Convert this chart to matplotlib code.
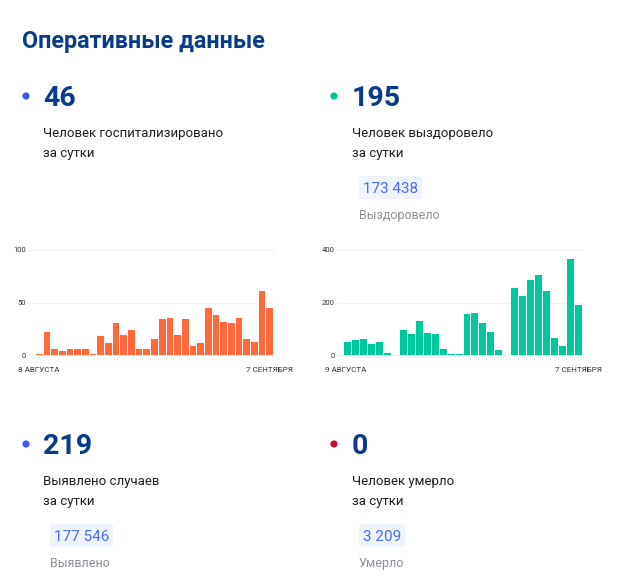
import matplotlib
matplotlib.use("Agg")
import matplotlib.pyplot as plt
from matplotlib.patches import FancyBboxPatch, Circle
import numpy as np

W, H = 623, 582

# ---- data ----
hospitalized = [2, 23, 7, 5, 7, 7, 7, 2, 19, 12, 31, 20, 25, 7, 7, 16, 35, 36,
                20, 35, 10, 12, 46, 39, 32, 31, 36, 16, 13, 62, 46]
recovered = [52, 60, 65, 45, 55, 10, 0, 99, 84, 134, 89, 84, 26, 8, 6, 159, 164,
             124, 91, 24, 0, 259, 229, 291, 307, 248, 68, 40, 368, 195]
hosp_yticks = [0, 50, 100]
rec_yticks = [0, 200, 400]
hosp_xlabels = ["8 АВГУСТА", "7 СЕНТЯБРЯ"]
rec_xlabels = ["9 АВГУСТА", "7 СЕНТЯБРЯ"]

title = "Оперативные данные"
cards = [
    dict(value="46", lines=["Человек госпитализировано", "за сутки"], dot="#3d5afe",
         total=None, total_label=None),
    dict(value="195", lines=["Человек выздоровело", "за сутки"], dot="#00c49a",
         total="173 438", total_label="Выздоровело"),
    dict(value="219", lines=["Выявлено случаев", "за сутки"], dot="#3d5afe",
         total="177 546", total_label="Выявлено"),
    dict(value="0", lines=["Человек умерло", "за сутки"], dot="#c8102e",
         total="3 209", total_label="Умерло"),
]

NAVY = "#0a3a8c"
TEXT = "#1e1e1e"
BLUE = "#4a6cf7"
BOXBG = "#eff4fe"
GRAY = "#8a8f99"
ORANGE = "#ff6a3d"
GREEN = "#00c89e"
FONT = ["Roboto", "DejaVu Sans"]

plt.rcParams["font.family"] = FONT

fig = plt.figure(figsize=(W / 100, H / 100), dpi=100)
fig.patch.set_facecolor("white")


def fx(x):
    return x / W


def fy(y):
    return 1 - y / H


def txt(x, y, s, **kw):
    return fig.text(fx(x), fy(y), s, va="baseline", ha=kw.pop("ha", "left"), **kw)


# title
txt(22, 48, title, fontsize=16.8, fontweight="bold", color=NAVY)

# cards
positions = [(26, 43, 0), (334, 352, 0), (26, 43, 348), (334, 352, 348)]
text_objs = []
for card, (dx, tx, off) in zip(cards, positions):
    fig.patches.append(Circle((dx, H - (96 + off)), 3.6, transform=None,
                              facecolor=card["dot"], edgecolor="none"))
    txt(tx, 106 + off, card["value"], fontsize=20.5, fontweight="bold", color=NAVY)
    txt(tx, 137 + off, card["lines"][0], fontsize=9.5, color=TEXT)
    txt(tx, 157 + off, card["lines"][1], fontsize=9.5, color=TEXT)
    if card["total"]:
        t = txt(tx + 11, 193 + off, card["total"], fontsize=11, color=BLUE, zorder=3)
        text_objs.append((t, off))
        txt(tx + 7, 219 + off, card["total_label"], fontsize=9, color=GRAY)


def bar_chart(left_px, right_px, bar_left_px, values, yticks, xlabels, color,
              lab_left_px, lab_right_px):
    bottom_px, top_px = 355, 250
    ax = fig.add_axes([fx(left_px), fy(bottom_px), (right_px - left_px) / W,
                       (bottom_px - top_px) / H])
    n = len(values)
    per = (right_px - bar_left_px) / n
    pad = (bar_left_px - left_px) / per
    x = np.arange(n)
    ax.bar(x, values, width=1.0, color=color, edgecolor="#ffffff", linewidth=0.7,
           zorder=2)
    ax.set_xlim(-0.5 - pad, n - 0.5)
    ax.set_ylim(0, yticks[-1])
    for yv in yticks:
        ax.axhline(yv, color="#f0f0f0", linewidth=0.8, zorder=1, clip_on=False)
    ax.set_yticks(yticks)
    ax.set_yticklabels([str(v) for v in yticks])
    ax.tick_params(axis="y", length=0, pad=1.5, labelsize=5.5, labelcolor="#333333")
    ax.set_xticks([])
    for s in ax.spines.values():
        s.set_visible(False)
    ax.patch.set_alpha(0)
    txt(lab_left_px, 372, xlabels[0], fontsize=5.8, color="#333333")
    txt(lab_right_px, 372, xlabels[1], fontsize=5.8, color="#333333", ha="right")
    return ax


bar_chart(28, 273, 35, hospitalized, hosp_yticks, hosp_xlabels, ORANGE, 18, 293)
bar_chart(337, 582, 343, recovered, rec_yticks, rec_xlabels, GREEN, 325, 602)

# boxes behind totals
fig.canvas.draw()
r = fig.canvas.get_renderer()
for t, off in text_objs:
    bb = t.get_window_extent(r)
    x0 = bb.x0 - 4
    x1 = bb.x1 + 4
    ytop = H - (176 + off)
    ybot = H - (199 + off)
    fig.patches.append(FancyBboxPatch((x0, ybot), x1 - x0, ytop - ybot,
                                      boxstyle="round,pad=0,rounding_size=3",
                                      transform=None, facecolor=BOXBG,
                                      edgecolor="none", zorder=1))

fig.savefig("out.png", dpi=100, facecolor="white")
